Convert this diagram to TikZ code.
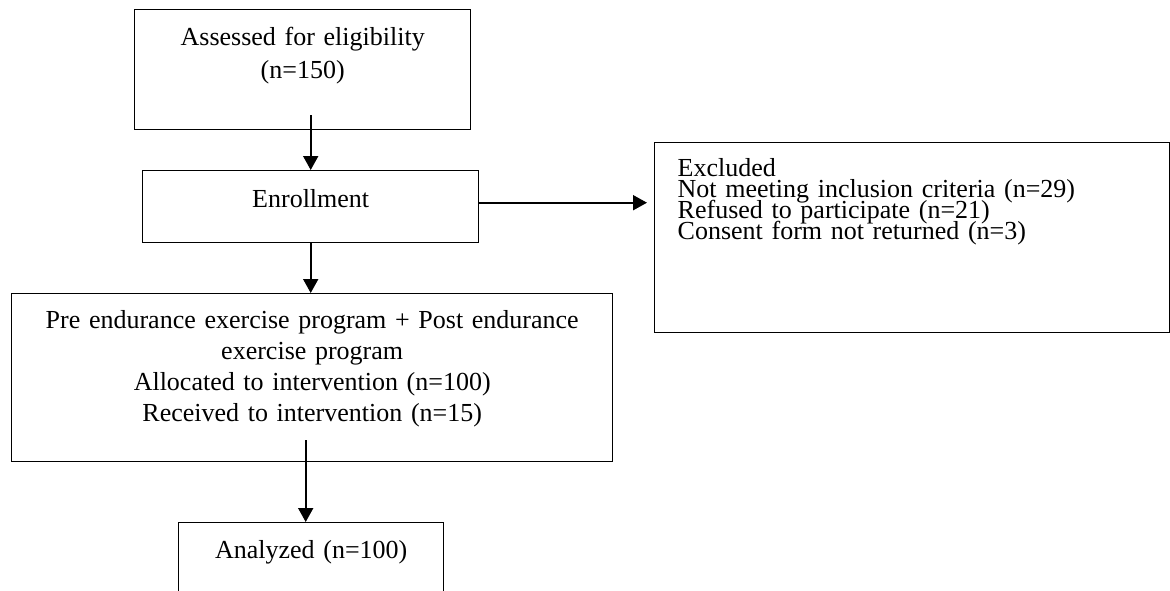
\documentclass[tikz,border=0pt]{standalone}
\usepackage{fontspec}
\setmainfont{Liberation Serif}
\usepackage{xcolor}
\usepackage{tikz}
\usetikzlibrary{positioning}
\usetikzlibrary{arrows.meta}
\usetikzlibrary{calc}

\begin{document}
\begin{tikzpicture}
  [
    x=0.5pt, y=-0.5pt,
    box/.style={
       draw=black,
       line width=0.7pt,
       anchor=north west,
       inner xsep=0pt,
       inner ysep=0pt,
       align=center,
       font={\fontsize{13pt}{15.5pt}\selectfont}
    },
    flow/.style={
       draw=black,
       line width=0.9pt,
       -{Triangle[length=7pt,width=7.5pt]}
    }
  ]
  \useasboundingbox (0,0) rectangle (1170,590);
  \clip (0,0) rectangle (1170,590);

  \node (assess) at (134,9) [box, text width=168pt, text height=18pt, text depth=42pt,
        font={\fontsize{13pt}{16.5pt}\selectfont}]
        {Assessed for eligibility\\(n=150)};
  \node (enroll) at (142,170) [box, text width=168pt, text height=18.5pt, text depth=17.5pt]
        {Enrollment};
  \node (excl) at (654,142) [box, text width=234.5pt, inner xsep=11.5pt, text height=17pt,
        text depth=78pt, align=left,
        font={\fontsize{13pt}{10.5pt}\selectfont\lineskiplimit=-20pt}]
        {Excluded\\Not meeting inclusion criteria (n=29)\\Refused to participate (n=21)\\Consent form not returned (n=3)};
  \node (pre) at (11,293) [box, text width=300.5pt, text height=17.5pt, text depth=66.5pt]
        {Pre endurance exercise program + Post endurance\\exercise program\\Allocated to intervention (n=100)\\Received to intervention (n=15)};
  \node (anal) at (178,522) [box, text width=132.5pt, text height=18pt, text depth=40pt]
        {Analyzed (n=100)};

  \draw [flow] ([yshift=7.5pt]assess.south -| enroll.north) -- (enroll.north);
  \draw [flow, shorten >=3.5pt] ([yshift=2pt]enroll.east) -- ([yshift=2pt]enroll.east -| excl.west);
  \draw [flow] (enroll.south) -- (enroll.south |- pre.north);
  \draw [flow] ([xshift=-3.25pt,yshift=11pt]pre.south) -- ([xshift=-3.25pt]pre.south |- anal.north);
\end{tikzpicture}
\end{document}
